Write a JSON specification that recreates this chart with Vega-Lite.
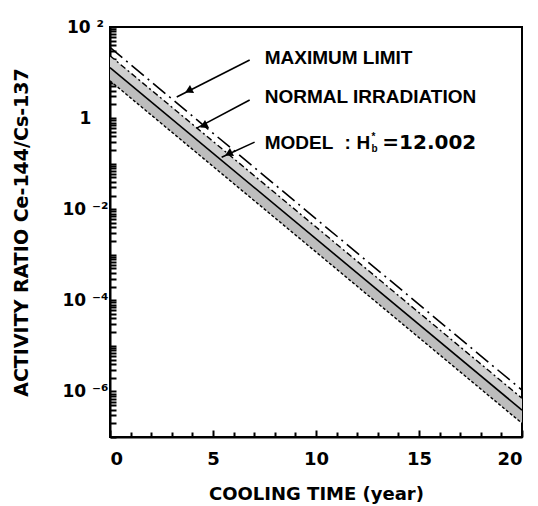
{
  "$schema": "https://vega.github.io/schema/vega-lite/v6.json",
  "width": 412,
  "height": 410,
  "autosize": {"type": "none"},
  "padding": {"left": 110, "top": 27, "right": 16, "bottom": 69},
  "background": "white",
  "config": {
    "view": {"stroke": "black", "strokeWidth": 2},
    "font": "DejaVu Sans"
  },
  "datasets": {
    "lines": [
      {"t": 0, "r": 35.5, "s": "max"},
      {"t": 20, "r": 1.07e-6, "s": "max"},
      {"t": 0, "r": 23.4, "s": "normal_upper"},
      {"t": 20, "r": 7.08e-7, "s": "normal_upper"},
      {"t": 0, "r": 12.9, "s": "model"},
      {"t": 20, "r": 3.89e-7, "s": "model"},
      {"t": 0, "r": 6.61, "s": "model_lower"},
      {"t": 20, "r": 2.0e-7, "s": "model_lower"}
    ],
    "bands": [
      {"t": 0, "hi": 23.4, "lo": 12.9, "band": "normal"},
      {"t": 20, "hi": 7.08e-7, "lo": 3.89e-7, "band": "normal"},
      {"t": 0, "hi": 12.9, "lo": 6.61, "band": "model"},
      {"t": 20, "hi": 3.89e-7, "lo": 2.0e-7, "band": "model"}
    ],
    "arrows": [
      {"t1": 6.78, "r1": 18.8, "t2": 3.24, "r2": 2.9, "th": 3.87, "rh": 4.12},
      {"t1": 6.78, "r1": 2.49, "t2": 4.21, "r2": 0.603, "th": 4.6, "rh": 0.70},
      {"t1": 7.02, "r1": 0.297, "t2": 5.42, "r2": 0.139, "th": 5.81, "rh": 0.170}
    ],
    "labels": [
      {"label": "MAXIMUM  LIMIT", "t": 7.51, "r": 20.8, "kind": "main"},
      {"label": "NORMAL  IRRADIATION", "t": 7.51, "r": 2.9, "kind": "main"},
      {"label": "MODEL", "t": 7.51, "r": 0.282, "kind": "main"},
      {"label": ":", "t": 11.38, "r": 0.282, "kind": "main"},
      {"label": "H", "t": 11.96, "r": 0.282, "kind": "main"},
      {"label": "=12.002", "t": 13.22, "r": 0.282, "kind": "num"},
      {"label": "*", "t": 12.69, "r": 0.282, "kind": "sup"},
      {"label": "b", "t": 12.69, "r": 0.282, "kind": "sub"}
    ]
  },
  "encoding": {
    "x": {
      "field": "t", "type": "quantitative",
      "scale": {"domain": [0, 20], "nice": false},
      "axis": {
        "title": "COOLING TIME (year)",
        "values": [0,1,2,3,4,5,6,7,8,9,10,11,12,13,14,15,16,17,18,19,20],
        "labelExpr": "datum.value % 5 == 0 ? datum.label : ''",
        "grid": false,
        "domainColor": "black", "domainWidth": 2,
        "tickColor": "black", "tickWidth": 2,
        "tickSize": {"condition": {"test": "datum.value % 5 == 0", "value": -7}, "value": -5},
        "labelFont": "DejaVu Sans", "labelFontWeight": "bold", "labelFontSize": 18, "labelColor": "black",
        "labelPadding": 20,
        "titleFont": "DejaVu Sans", "titleFontWeight": "bold", "titleFontSize": 18, "titleColor": "black",
        "titlePadding": 17
      }
    },
    "y": {
      "field": "r", "type": "quantitative",
      "scale": {"type": "log", "domain": [1e-7, 100], "nice": false},
      "axis": {
        "title": "ACTIVITY RATIO Ce-144/Cs-137",
        "values": [1e-7,2e-7,3e-7,4e-7,5e-7,6e-7,7e-7,8e-7,9e-7,
                   1e-6,2e-6,3e-6,4e-6,5e-6,6e-6,7e-6,8e-6,9e-6,
                   1e-5,2e-5,3e-5,4e-5,5e-5,6e-5,7e-5,8e-5,9e-5,
                   1e-4,2e-4,3e-4,4e-4,5e-4,6e-4,7e-4,8e-4,9e-4,
                   0.001,0.002,0.003,0.004,0.005,0.006,0.007,0.008,0.009,
                   0.01,0.02,0.03,0.04,0.05,0.06,0.07,0.08,0.09,
                   0.1,0.2,0.3,0.4,0.5,0.6,0.7,0.8,0.9,
                   1,2,3,4,5,6,7,8,9,
                   10,20,30,40,50,60,70,80,90,100],
        "labelExpr": "abs(log(datum.value)/LN10 - round(log(datum.value)/LN10)) < 1e-6 ? (round(log(datum.value)/LN10) == 2 ? '10 ²' : round(log(datum.value)/LN10) == 0 ? '1' : round(log(datum.value)/LN10) == -2 ? '10 ⁻²' : round(log(datum.value)/LN10) == -4 ? '10 ⁻⁴' : round(log(datum.value)/LN10) == -6 ? '10 ⁻⁶' : '') : ''",
        "labelOverlap": false,
        "labelAlign": "center",
        "grid": false,
        "domainColor": "black", "domainWidth": 2,
        "tickColor": "black", "tickWidth": 2,
        "tickSize": -6,
        "labelFont": "DejaVu Sans", "labelFontWeight": "bold", "labelFontSize": 17, "labelColor": "black",
        "labelPadding": 31,
        "titleFont": "DejaVu Sans", "titleFontWeight": "bold", "titleFontSize": 19, "titleColor": "black",
        "titleX": -79, "titleY": 205
      }
    }
  },
  "layer": [
    {
      "data": {"name": "bands"},
      "transform": [{"filter": "datum.band == 'normal'"}],
      "mark": {"type": "area", "color": "#cfcfcf", "opacity": 1},
      "encoding": {"y": {"field": "hi", "type": "quantitative"}, "y2": {"field": "lo"}}
    },
    {
      "data": {"name": "bands"},
      "transform": [{"filter": "datum.band == 'model'"}],
      "mark": {"type": "area", "color": "#bdbdbd", "opacity": 1},
      "encoding": {"y": {"field": "hi", "type": "quantitative"}, "y2": {"field": "lo"}}
    },
    {
      "data": {"name": "lines"},
      "transform": [{"filter": "datum.s == 'max'"}],
      "mark": {"type": "line", "color": "black", "strokeWidth": 1.6, "strokeDash": [16, 5, 2, 5]},
      "encoding": {}
    },
    {
      "data": {"name": "lines"},
      "transform": [{"filter": "datum.s == 'normal_upper'"}],
      "mark": {"type": "line", "color": "black", "strokeWidth": 1.4, "strokeDash": [6, 3, 2, 3]},
      "encoding": {}
    },
    {
      "data": {"name": "lines"},
      "transform": [{"filter": "datum.s == 'model'"}],
      "mark": {"type": "line", "color": "black", "strokeWidth": 1.6},
      "encoding": {}
    },
    {
      "data": {"name": "lines"},
      "transform": [{"filter": "datum.s == 'model_lower'"}],
      "mark": {"type": "line", "color": "black", "strokeWidth": 1.4, "strokeDash": [3, 2]},
      "encoding": {}
    },
    {
      "data": {"name": "arrows"},
      "mark": {"type": "rule", "color": "black", "strokeWidth": 1.6},
      "encoding": {
        "x": {"field": "t1", "type": "quantitative"},
        "y": {"field": "r1", "type": "quantitative"},
        "x2": {"field": "t2"},
        "y2": {"field": "r2"}
      }
    },
    {
      "data": {"name": "arrows"},
      "mark": {"type": "point", "shape": "triangle", "filled": true, "color": "black", "size": 80, "angle": 243, "opacity": 1},
      "encoding": {
        "x": {"field": "th", "type": "quantitative"},
        "y": {"field": "rh", "type": "quantitative"}
      }
    },
    {
      "data": {"name": "labels"},
      "transform": [{"filter": "datum.kind == 'main'"}],
      "mark": {"type": "text", "align": "left", "baseline": "middle", "font": "Liberation Sans", "fontWeight": "bold", "fontSize": 19, "color": "black"},
      "encoding": {"text": {"field": "label"}}
    },
    {
      "data": {"name": "labels"},
      "transform": [{"filter": "datum.kind == 'num'"}],
      "mark": {"type": "text", "align": "left", "baseline": "middle", "font": "DejaVu Sans", "fontWeight": "bold", "fontSize": 20, "color": "black"},
      "encoding": {"text": {"field": "label"}}
    },
    {
      "data": {"name": "labels"},
      "transform": [{"filter": "datum.kind == 'sup'"}],
      "mark": {"type": "text", "align": "left", "baseline": "middle", "dy": -6, "font": "Liberation Sans", "fontWeight": "bold", "fontSize": 10, "color": "black"},
      "encoding": {"text": {"field": "label"}}
    },
    {
      "data": {"name": "labels"},
      "transform": [{"filter": "datum.kind == 'sub'"}],
      "mark": {"type": "text", "align": "left", "baseline": "middle", "dy": 6, "font": "Liberation Sans", "fontWeight": "bold", "fontSize": 10, "color": "black"},
      "encoding": {"text": {"field": "label"}}
    }
  ]
}
